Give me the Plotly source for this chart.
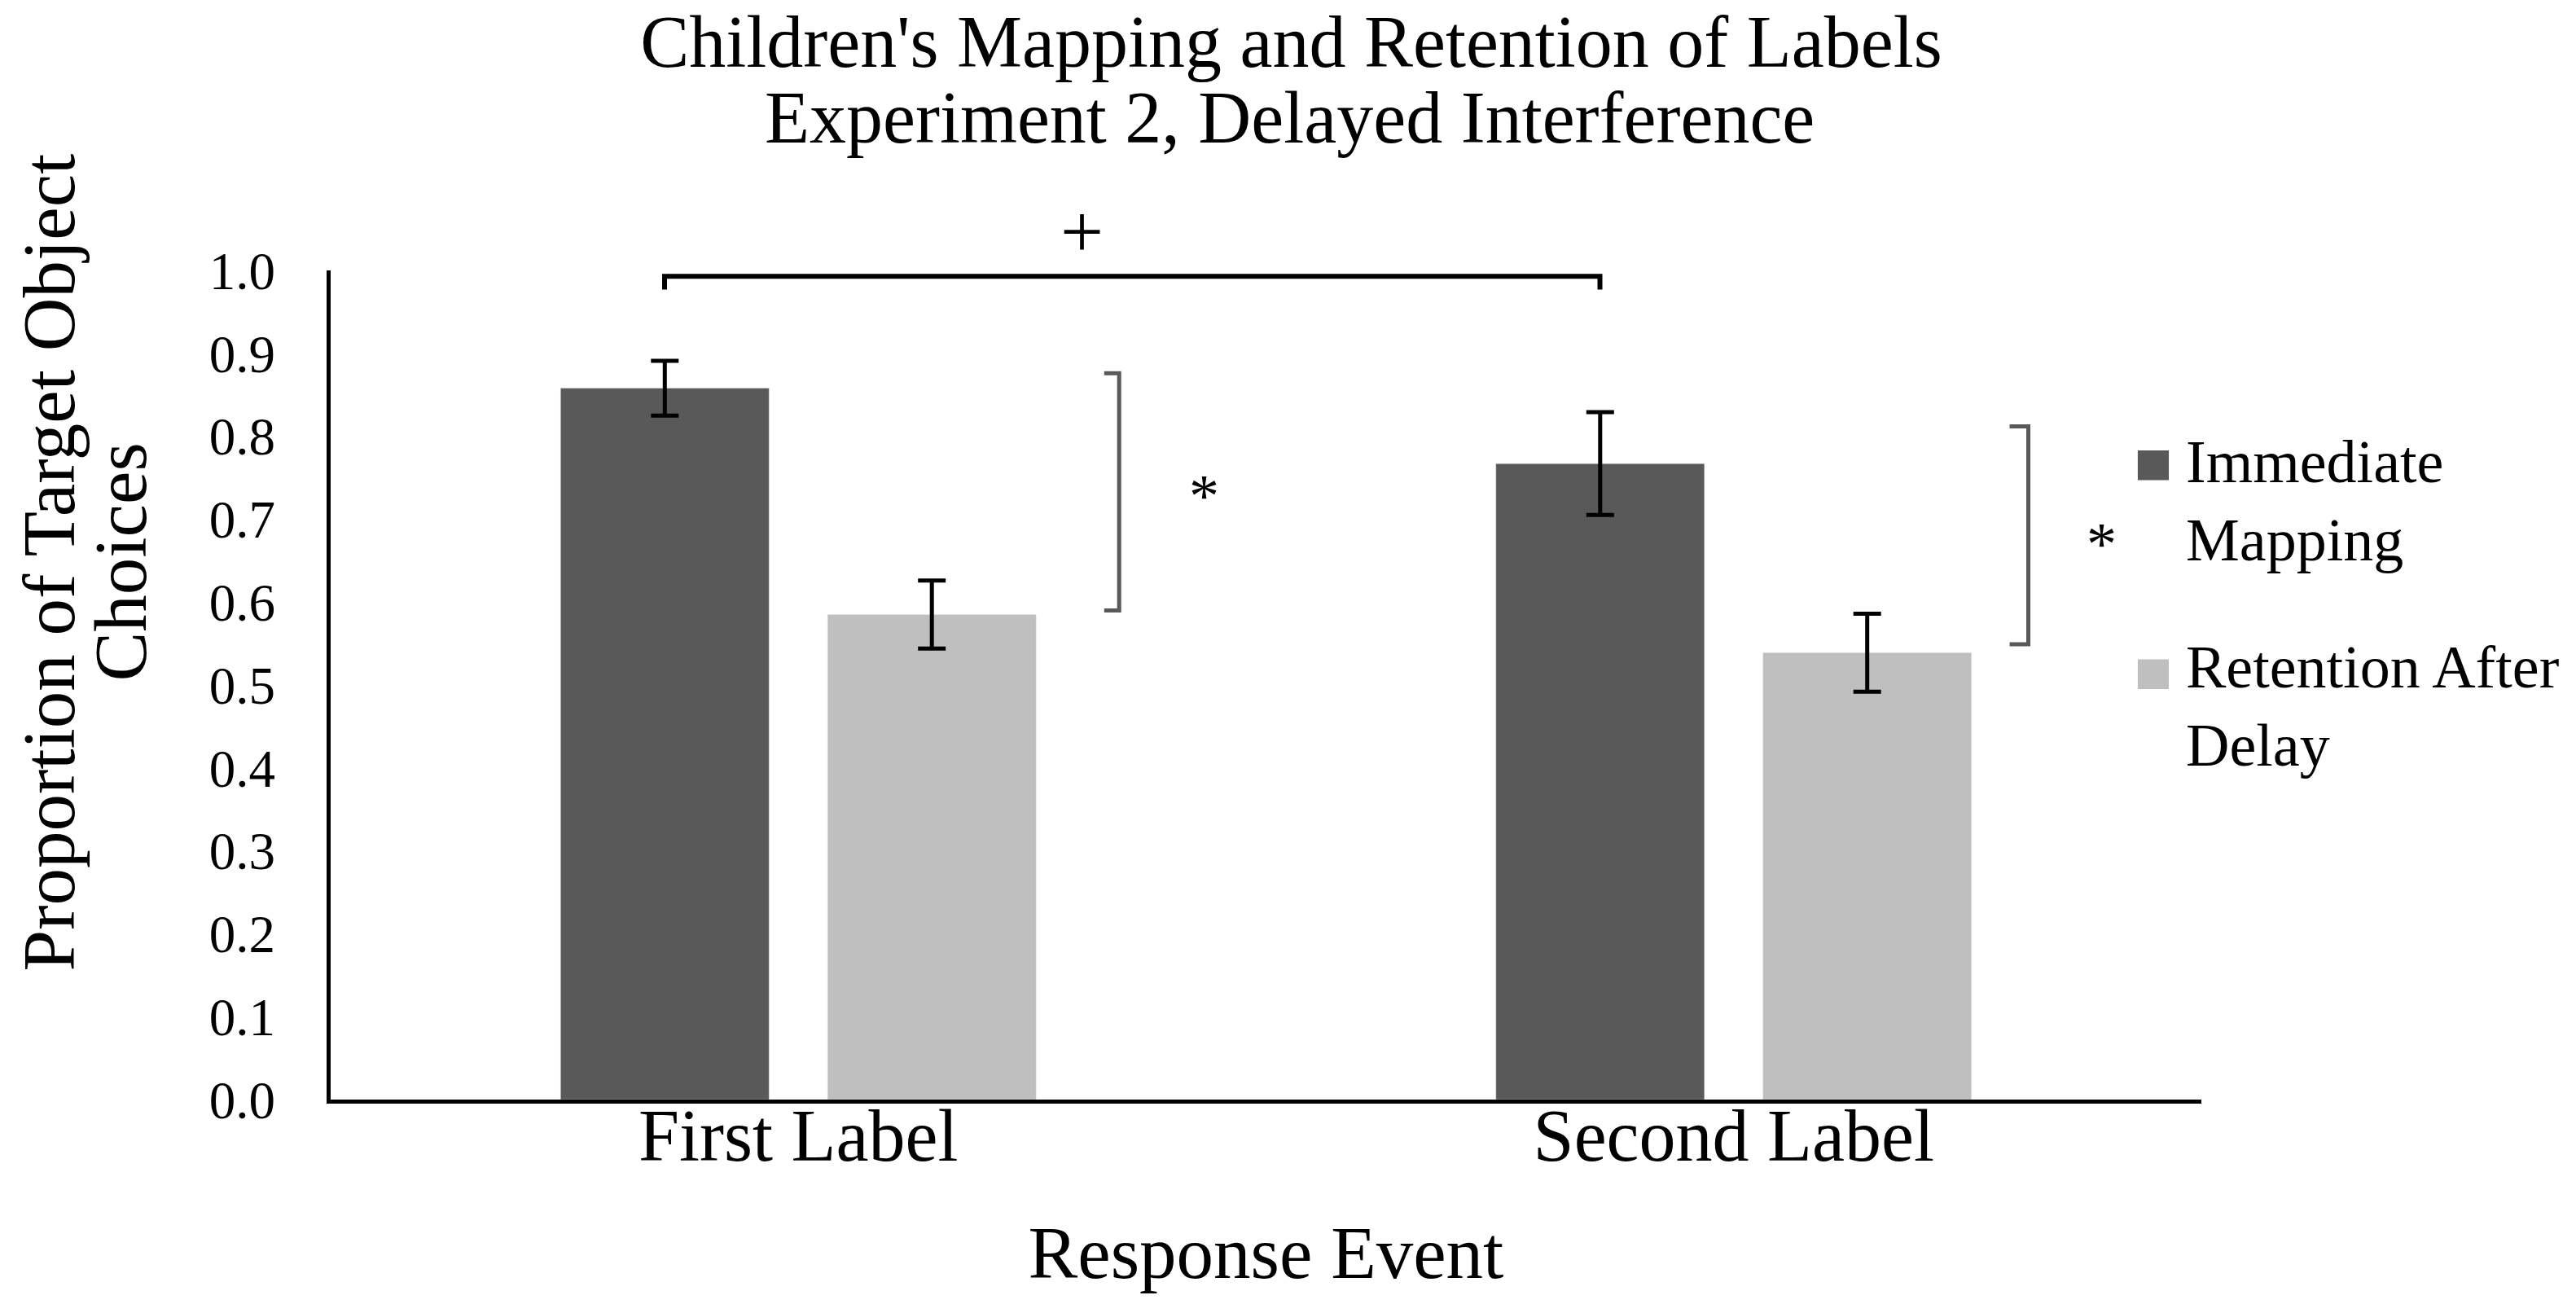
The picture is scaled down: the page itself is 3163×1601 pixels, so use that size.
import plotly.graph_objects as go

# data
events = ["First Label", "Second Label"]
immediate = [0.858, 0.767]
immediate_err = [0.033, 0.062]
retention = [0.585, 0.539]
retention_err = [0.041, 0.047]
y_ticks = [0.0, 0.1, 0.2, 0.3, 0.4, 0.5, 0.6, 0.7, 0.8, 0.9, 1.0]

FONT = "Liberation Serif, Times New Roman, serif"
DARK = "#595959"
LIGHT = "#bfbfbf"

# the page body has an 8px margin, so the figure is shrunk by that much
W, H, PAD = 3163, 1601, 8

fig = go.Figure()
fig.add_trace(go.Bar(
    name="Immediate Mapping", x=events, y=immediate,
    marker_color=DARK,
    error_y=dict(type="data", array=immediate_err, color="black", thickness=5, width=17),
))
fig.add_trace(go.Bar(
    name="Retention After Delay", x=events, y=retention,
    marker_color=LIGHT,
    error_y=dict(type="data", array=retention_err, color="black", thickness=5, width=17),
))

# "+" bracket between the two immediate-mapping bars
off = -0.143
fig.add_shape(type="path", xref="x", yref="y",
              path=f"M {0 + off},0.977 L {0 + off},0.993 L {1 + off},0.993 L {1 + off},0.977",
              line=dict(color="black", width=6))
fig.add_annotation(x=0.4018, y=1.047, xref="paper", yref="paper", text="+", showarrow=False,
                   xanchor="center", yanchor="middle",
                   font=dict(family=FONT, size=94, color="black"))

# significance brackets within each label
brackets = [(0.343, 0.327, 0.876, 0.590), (1.315, 1.295, 0.812, 0.549)]
for xv, xt, ytop, ybot in brackets:
    fig.add_shape(type="path", xref="x", yref="y",
                  path=f"M {xt},{ytop} L {xv},{ytop} L {xv},{ybot} L {xt},{ybot}",
                  line=dict(color="#595959", width=5))
stars = [(0.434, 0.740), (1.393, 0.682)]
for xs, ys in stars:
    fig.add_annotation(x=xs, y=ys, xref="x", yref="y", text="*", showarrow=False,
                       yshift=-12, font=dict(family=FONT, size=74, color="black"))

# legend drawn by hand so the swatches can be as large as the original
legend_items = [("Immediate<br>Mapping", DARK, 0.765, 0.722),
                ("Retention After<br>Delay", LIGHT, 0.513, 0.474)]
for label, colour, ysq, ytxt in legend_items:
    fig.add_shape(type="rect", xref="paper", yref="paper",
                  x0=0.966, x1=0.9826, y0=ysq - 0.018, y1=ysq + 0.018,
                  fillcolor=colour, line=dict(width=0))
    fig.add_annotation(x=0.991, y=ytxt, xref="paper", yref="paper", text=label,
                       showarrow=False, xanchor="left", yanchor="middle", align="left",
                       font=dict(family=FONT, size=74, color="black"))

# y axis title sits above the plot centre in the original, so place it by hand
y_title = ["Proportion of Target Object", "Choices"]
for line, xp in zip(y_title, [-0.1506, -0.1123]):
    fig.add_annotation(x=xp, y=0.648, xref="paper", yref="paper", text=line,
                       textangle=-90, showarrow=False, xanchor="center", yanchor="middle",
                       font=dict(family=FONT, size=91, color="black"))

# second title line, kept tighter to the first than a <br> would allow
fig.add_annotation(x=0.5128, y=1.1837, xref="paper", yref="paper",
                   text="Experiment 2, Delayed Interference", showarrow=False,
                   xanchor="center", yanchor="middle",
                   font=dict(family=FONT, size=90, color="black"))

fig.update_layout(
    width=W - PAD, height=H - PAD,
    margin=dict(l=406 - PAD, r=460, t=332 - PAD, b=251),
    paper_bgcolor="white", plot_bgcolor="white",
    font=dict(family=FONT, color="black"),
    showlegend=False,
    bargap=0.429, bargroupgap=0.219,
    title=dict(text="Children's Mapping and Retention of Labels",
               x=0.5, xanchor="center", y=1 - 42 / (H - PAD), yanchor="middle",
               font=dict(family=FONT, size=90, color="black")),
)
fig.update_xaxes(
    showline=True, linecolor="black", linewidth=5, showgrid=False, ticks="",
    ticklabelstandoff=-38,
    tickfont=dict(family=FONT, size=90, color="black"),
    title=dict(text="Response Event", font=dict(family=FONT, size=91, color="black"), standoff=64),
)
fig.update_yaxes(
    range=[0, 1.0], tickvals=y_ticks, tickformat=".1f",
    showline=True, linecolor="black", linewidth=5, showgrid=False, ticks="",
    zeroline=False, ticklabelstandoff=50,
    tickfont=dict(family=FONT, size=65, color="black"),
)

fig.write_html("out.html")
